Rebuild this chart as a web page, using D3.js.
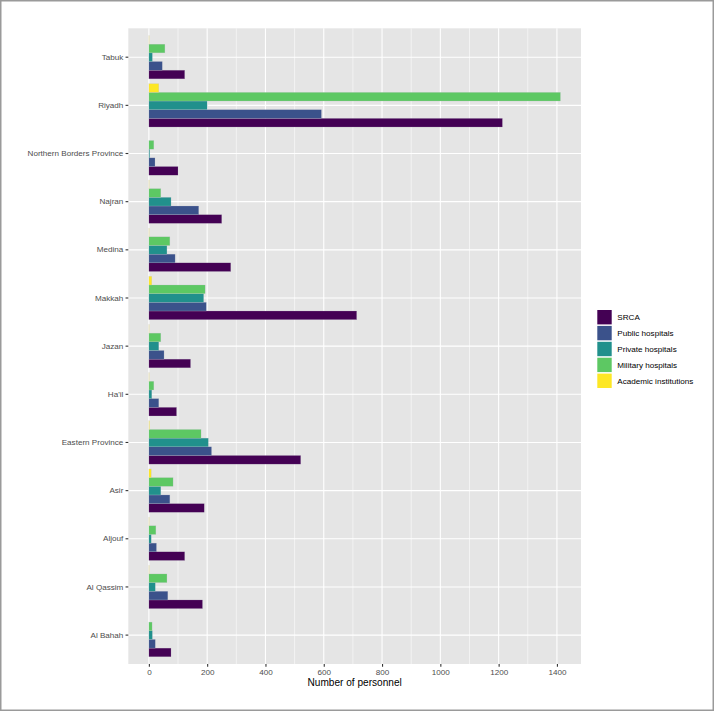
<!DOCTYPE html>
<html>
<head>
<meta charset="utf-8">
<script src="https://cdn.jsdelivr.net/npm/d3@7"></script>
<style>
  body { margin: 0; background: #fff; }
  svg { display: block; font-family: 'Liberation Sans', Arial, sans-serif; }
</style>
</head>
<body>
<svg id="chart" width="714" height="711"></svg>
<script>
// regions, top to bottom as drawn
const regions = ['Tabuk', 'Riyadh', 'Northern Borders Province', 'Najran', 'Medina', 'Makkah',
  'Jazan', "Ha'il", 'Eastern Province', 'Asir', 'Aljouf', 'Al Qassim', 'Al Bahah'];

const series = ['SRCA', 'Public hospitals', 'Private hospitals', 'Military hospitals', 'Academic institutions'];

const srca = [123, 1213, 100, 250, 281, 713, 143, 95, 521, 190, 123, 184, 76];
const publicHosp = [46, 592, 21, 171, 90, 197, 52, 34, 215, 72, 26, 65, 22];
const privateHosp = [12, 200, 3, 76, 62, 188, 34, 10, 204, 41, 8, 22, 12];
const military = [55, 1412, 17, 41, 72, 193, 41, 17, 179, 83, 24, 62, 11];
const academic = [1, 34, 0, 1, 1, 10, 1, 1, 2, 8, 1, 1, 0];

const xTicks = [0, 200, 400, 600, 800, 1000, 1200, 1400];
const colors = ['#440154', '#3B528B', '#21908C', '#5DC863', '#FDE725'];

const valuesBySeries = [srca, publicHosp, privateHosp, military, academic];

const svg = d3.select('#chart');
const width = +svg.attr('width');
const height = +svg.attr('height');

// outer frame
svg.append('rect')
  .attr('x', 0.75).attr('y', 0.75)
  .attr('width', width - 1.5).attr('height', height - 1.5)
  .attr('fill', '#fff').attr('stroke', '#9a9a9a').attr('stroke-width', 1.5);

const panel = { left: 128.3, right: 581, top: 28.3, bottom: 664 };
const fontSize = 8.1;

const maxVal = d3.max(valuesBySeries, arr => d3.max(arr));
const x = d3.scaleLinear()
  .domain([-0.05 * maxVal, 1.05 * maxVal])
  .range([panel.left, panel.right]);

const y0 = d3.scaleBand()
  .domain(regions)
  .range([panel.top, panel.bottom])
  .paddingInner(0)
  .paddingOuter(0.1);

// academic on top, SRCA at the bottom of each group
const y1 = d3.scaleBand()
  .domain(series.slice().reverse())
  .range([y0.bandwidth() * 0.05, y0.bandwidth() * 0.95]);

const color = d3.scaleOrdinal().domain(series).range(colors);

// panel background
svg.append('rect')
  .attr('x', panel.left).attr('y', panel.top)
  .attr('width', panel.right - panel.left).attr('height', panel.bottom - panel.top)
  .attr('fill', '#e5e5e5');

const grid = svg.append('g');
const minorTicks = d3.range(100, 1400, 200);
grid.selectAll('line.minor')
  .data(minorTicks)
  .enter().append('line')
  .attr('x1', d => x(d)).attr('x2', d => x(d))
  .attr('y1', panel.top).attr('y2', panel.bottom)
  .attr('stroke', '#fff').attr('stroke-width', 0.55);

grid.selectAll('line.majorx')
  .data(xTicks)
  .enter().append('line')
  .attr('x1', d => x(d)).attr('x2', d => x(d))
  .attr('y1', panel.top).attr('y2', panel.bottom)
  .attr('stroke', '#fff').attr('stroke-width', 1.1);

grid.selectAll('line.majory')
  .data(regions)
  .enter().append('line')
  .attr('x1', panel.left).attr('x2', panel.right)
  .attr('y1', d => y0(d) + y0.bandwidth() / 2)
  .attr('y2', d => y0(d) + y0.bandwidth() / 2)
  .attr('stroke', '#fff').attr('stroke-width', 1.1);

// bars
const rows = regions.map((r, i) => ({
  region: r,
  values: series.map((s, j) => ({ key: s, value: valuesBySeries[j][i] }))
}));

svg.append('g')
  .selectAll('g')
  .data(rows)
  .enter().append('g')
  .attr('transform', d => 'translate(0,' + y0(d.region) + ')')
  .selectAll('rect')
  .data(d => d.values)
  .enter().append('rect')
  .attr('x', x(0))
  .attr('y', d => y1(d.key))
  .attr('width', d => Math.max(0, x(d.value) - x(0)))
  .attr('height', y1.bandwidth())
  .attr('fill', d => color(d.key))
  .attr('stroke', 'rgba(190,190,200,0.55)')
  .attr('stroke-width', d => d.value > 0 ? 0.4 : 0);

// y axis
const yAxis = svg.append('g')
  .attr('transform', 'translate(' + panel.left + ',0)')
  .call(d3.axisLeft(y0).tickSize(2.75).tickPadding(2.2));
yAxis.select('.domain').remove();
yAxis.selectAll('.tick line').attr('stroke', '#333').attr('stroke-width', 1.1);
yAxis.selectAll('.tick text').attr('fill', '#4d4d4d').attr('font-size', fontSize)
  .attr('font-family', "'Liberation Sans', Arial, sans-serif");

// x axis
const xAxis = svg.append('g')
  .attr('transform', 'translate(0,' + panel.bottom + ')')
  .call(d3.axisBottom(x).tickValues(xTicks).tickSize(2.75).tickPadding(2.2).tickFormat(d3.format('d')));
xAxis.select('.domain').remove();
xAxis.selectAll('.tick line').attr('stroke', '#333').attr('stroke-width', 1.1);
xAxis.selectAll('.tick text').attr('fill', '#4d4d4d').attr('font-size', fontSize)
  .attr('font-family', "'Liberation Sans', Arial, sans-serif");

svg.append('text')
  .attr('x', (panel.left + panel.right) / 2)
  .attr('y', 686.3)
  .attr('text-anchor', 'middle')
  .attr('font-size', 10.1)
  .attr('fill', '#000')
  .text('Number of personnel');

// legend
const legend = svg.append('g')
  .attr('transform', 'translate(597.3,310)')
  .selectAll('g')
  .data(series)
  .enter().append('g')
  .attr('transform', (d, i) => 'translate(0,' + i * 15.9 + ')');

legend.append('rect')
  .attr('width', 14.4).attr('height', 14.4)
  .attr('fill', d => color(d));

legend.append('text')
  .attr('x', 20)
  .attr('y', 7.2)
  .attr('dy', '0.35em')
  .attr('font-size', fontSize)
  .attr('fill', '#000')
  .text(d => d);
</script>
</body>
</html>
